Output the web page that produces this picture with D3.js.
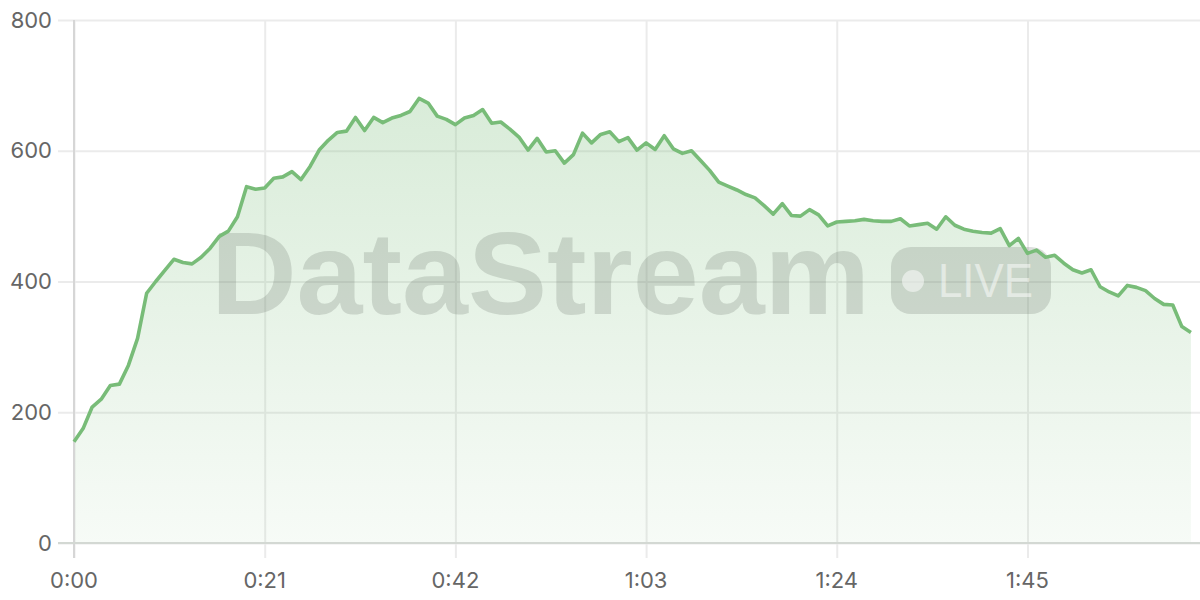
<!DOCTYPE html>
<html>
<head>
<meta charset="utf-8">
<script src="https://cdn.jsdelivr.net/npm/d3@7"></script>
<style>
  html, body { margin: 0; padding: 0; background: #fff; }
  svg { display: block; }
</style>
</head>
<body>
<svg id="chart" width="1200" height="600"></svg>
<script>
// ---- Data (seconds elapsed, value) ----
const seconds = d3.range(0, 124);
const values = [
  155, 175, 208, 220, 241, 243, 272, 313, 382, 400,
  417, 434, 429, 427, 437, 451, 469, 477, 499, 545,
  541, 543, 558, 560, 568, 556, 576, 601, 616, 628,
  630, 651, 631, 651, 643, 650, 654, 660, 680, 673,
  653, 648, 640, 650, 654, 663, 642, 644, 633, 621,
  601, 619, 598, 600, 581, 594, 627, 612, 625, 629,
  614, 620, 601, 612, 602, 623, 603, 596, 600, 585,
  570, 552, 546, 540, 533, 528, 516, 503, 519, 501,
  500, 510, 502, 485, 491, 492, 493, 495, 493, 492,
  492, 496, 485, 487, 489, 480, 499, 486, 480, 477,
  475, 474, 481, 455, 466, 443, 448, 437, 440, 428,
  418, 413, 418, 392, 384, 378, 394, 391, 386, 374,
  365, 364, 331, 322
];
const xTickValues = [0, 21, 42, 63, 84, 105];
const yTickValues = [0, 200, 400, 600, 800];
const watermarkText = "DataStream";
const badgeText = "LIVE";

const data = seconds.map((s, i) => ({ t: s, v: values[i] }));

const svg = d3.select("#chart");
const mLeft = 74, mRight = 1200, mTop = 20, mBottom = 543;

const x = d3.scaleLinear().domain([0, 124]).range([mLeft, mRight]);
const y = d3.scaleLinear().domain([0, 800]).range([mBottom, mTop]);

const fmt = s => Math.floor(s / 60) + ":" + String(s % 60).padStart(2, "0");

// gradient
const defs = svg.append("defs");
const grad = defs.append("linearGradient")
  .attr("id", "areaGrad").attr("gradientUnits", "userSpaceOnUse")
  .attr("x1", 0).attr("x2", 0).attr("y1", mTop).attr("y2", mBottom);
grad.append("stop").attr("offset", "0%").attr("stop-color", "#77bb77").attr("stop-opacity", 0.32);
grad.append("stop").attr("offset", "100%").attr("stop-color", "#77bb77").attr("stop-opacity", 0.06);

// grid: horizontal
const gy = svg.append("g").attr("transform", `translate(${mLeft},0)`)
  .call(d3.axisLeft(y).tickValues(yTickValues).tickSize(-(mRight - mLeft)).tickFormat(""));
gy.select(".domain").remove();
gy.selectAll(".tick line").attr("stroke", "#ebebeb").attr("stroke-width", 2)
  .attr("x1", -16);

// grid: vertical
const gx = svg.append("g").attr("transform", `translate(0,${mBottom})`)
  .call(d3.axisBottom(x).tickValues(xTickValues).tickSize(-(mBottom - mTop)).tickFormat(""));
gx.select(".domain").remove();
gx.selectAll(".tick line").attr("stroke", "#ebebeb").attr("stroke-width", 2)
  .attr("y1", 15);

// area
const area = d3.area().x(d => x(d.t)).y0(y(0)).y1(d => y(d.v));
svg.append("path").datum(data).attr("d", area).attr("fill", "url(#areaGrad)");

// axis lines
svg.append("line").attr("x1", mLeft).attr("x2", mLeft).attr("y1", mTop).attr("y2", mBottom + 15)
  .attr("stroke", "#d6d6d6").attr("stroke-width", 2);
svg.append("line").attr("x1", mLeft - 16).attr("x2", mRight).attr("y1", mBottom).attr("y2", mBottom)
  .attr("stroke", "#d3d8d3").attr("stroke-width", 2);

// labels
const labelFont = "Inter, 'Noto Sans', sans-serif";
svg.append("g").selectAll("text").data(yTickValues).join("text")
  .attr("x", 52).attr("y", d => y(d)).attr("dy", "0.35em")
  .attr("text-anchor", "end").attr("font-family", labelFont).attr("font-size", 22)
  .attr("fill", "#666").text(d => d);
svg.append("g").selectAll("text").data(xTickValues).join("text")
  .attr("x", d => x(d)).attr("y", 588)
  .attr("text-anchor", "middle").attr("font-family", labelFont).attr("font-size", 22)
  .attr("fill", "#666").text(d => fmt(d));

// watermark
const wm = svg.append("g");
wm.append("text").attr("x", 211).attr("y", 314)
  .attr("font-family", "'Liberation Sans', Arial, sans-serif").attr("font-weight", "bold")
  .attr("font-size", 117).attr("textLength", 659).attr("lengthAdjust", "spacingAndGlyphs")
  .attr("fill", "#646e64").attr("fill-opacity", 0.22).text(watermarkText);
wm.append("rect").attr("x", 891).attr("y", 247).attr("width", 160).attr("height", 67)
  .attr("rx", 20).attr("fill", "#646e64").attr("fill-opacity", 0.22);
wm.append("circle").attr("cx", 913).attr("cy", 281).attr("r", 11)
  .attr("fill", "#fff").attr("fill-opacity", 0.5);
wm.append("text").attr("x", 938).attr("y", 297)
  .attr("font-family", "'Liberation Sans', Arial, sans-serif")
  .attr("font-size", 48).attr("textLength", 95).attr("lengthAdjust", "spacingAndGlyphs")
  .attr("fill", "#fff").attr("fill-opacity", 0.5).text(badgeText);

// line
const line = d3.line().x(d => x(d.t)).y(d => y(d.v));
svg.append("path").datum(data).attr("d", line).attr("fill", "none")
  .attr("stroke", "#78bc78").attr("stroke-width", 3.6).attr("stroke-linejoin", "round");
</script>
</body>
</html>
